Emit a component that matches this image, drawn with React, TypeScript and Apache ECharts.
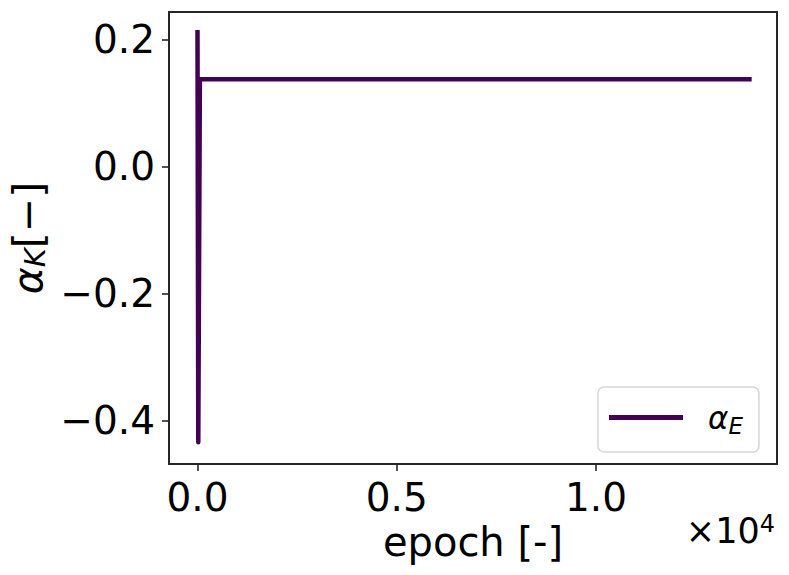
import React, { useEffect, useRef } from "react";
import * as echarts from "echarts";

// Data
const epochs = [0, 20, 60, 13850];
const alphaE = [0.212, -0.434, 0.138, 0.138];
const xTicks = [0, 5000, 10000];
const yTicks = [-0.4, -0.2, 0.0, 0.2];
const xLimits = [-715, 14542];
const yLimits = [-0.4682, 0.2441];
const seriesName = "alphaE";

const FONT = "DejaVu Sans";
const LINE_COLOR = "#440154";
const AXIS_COLOR = "#262626";

export default function App() {
  const ref = useRef<HTMLDivElement>(null);
  useEffect(() => {
    if (!ref.current) return;
    const chart = echarts.init(ref.current, undefined, { renderer: "svg" });
    const data = epochs.map((e, i) => [e, alphaE[i]]);
    const fmtMinus = (s: string) => s.replace("-", "\u2212");
    chart.setOption({
      animation: false,
      backgroundColor: "#ffffff",
      textStyle: { fontFamily: FONT },
      grid: {
        left: 169,
        right: 12,
        top: 12,
        bottom: 111,
        show: true,
        borderColor: AXIS_COLOR,
        borderWidth: 2,
        backgroundColor: "transparent",
        containLabel: false,
        outerBoundsMode: "none",
      },
      xAxis: {
        type: "value",
        min: xLimits[0],
        max: xLimits[1],
        splitLine: { show: false },
        axisLine: { show: true, onZero: false, lineStyle: { color: AXIS_COLOR, width: 2 } },
        axisTick: {
          show: true,
          length: 7,
          customValues: xTicks,
          lineStyle: { color: AXIS_COLOR, width: 1.6 },
        },
        axisLabel: {
          customValues: xTicks,
          margin: 14,
          fontSize: 39,
          color: "#000",
          fontFamily: FONT,
          formatter: (v: number) => fmtMinus((v / 1e4).toFixed(1)),
        },
        name: "epoch [-]",
        nameLocation: "middle",
        nameGap: 54,
        nameTextStyle: { fontSize: 40, color: "#000", fontFamily: FONT },
      },
      yAxis: {
        type: "value",
        min: yLimits[0],
        max: yLimits[1],
        splitLine: { show: false },
        axisLine: { show: true, onZero: false, lineStyle: { color: AXIS_COLOR, width: 2 } },
        axisTick: {
          show: true,
          length: 7,
          customValues: yTicks,
          lineStyle: { color: AXIS_COLOR, width: 1.6 },
        },
        axisLabel: {
          customValues: yTicks,
          margin: 14,
          fontSize: 39,
          color: "#000",
          fontFamily: FONT,
          formatter: (v: number) => fmtMinus(v.toFixed(1)),
        },
        name: "{a|α}{s|K}{b|[−]}",
        nameLocation: "middle",
        nameRotate: 90,
        nameGap: 120,
        nameTextStyle: {
          color: "#000",
          fontFamily: FONT,
          rich: {
            a: { fontSize: 41, fontStyle: "italic", fontFamily: FONT, color: "#000" },
            s: { fontSize: 29, fontStyle: "italic", fontFamily: FONT, color: "#000", padding: [14, 0, 0, 0] },
            b: { fontSize: 41, fontFamily: FONT, color: "#000" },
          },
        },
      },
      legend: {
        show: true,
        left: 598,
        top: 387,
        orient: "vertical",
        padding: [15, 16, 15, 11],
        backgroundColor: "#ffffff",
        borderColor: "#d6d6d6",
        borderWidth: 1.5,
        borderRadius: 6,
        itemWidth: 74,
        itemHeight: 5,
        icon: "rect",
        data: [seriesName],
        formatter: () => "{a|α}{s|E}",
        textStyle: {
          lineHeight: 31,
          rich: {
            a: { fontSize: 31, fontStyle: "italic", fontFamily: FONT, color: "#000", padding: [0, 0, 0, 20] },
            s: { fontSize: 23, fontStyle: "italic", fontFamily: FONT, color: "#000", padding: [16, 0, 0, 0] },
          },
        },
      },
      graphic: [
        {
          type: "text",
          right: 14,
          top: 512,
          style: {
            text: "{m|×10}{p|4}",
            fill: "#000",
            rich: {
              m: { fontSize: 35, fontFamily: FONT, fill: "#000" },
              p: { fontSize: 24, fontFamily: FONT, fill: "#000", padding: [0, 0, 14, 0] },
            },
          },
        },
      ],
      series: [
        {
          name: seriesName,
          type: "line",
          data,
          showSymbol: false,
          symbol: "none",
          lineStyle: { color: LINE_COLOR, width: 4.5, cap: "square", join: "round" },
          itemStyle: { color: LINE_COLOR },
        },
      ],
    });
    return () => chart.dispose();
  }, []);
  return (
    <div
      ref={ref}
      style={{ position: "fixed", left: 0, top: 0, width: 789, height: 575 }}
    />
  );
}
